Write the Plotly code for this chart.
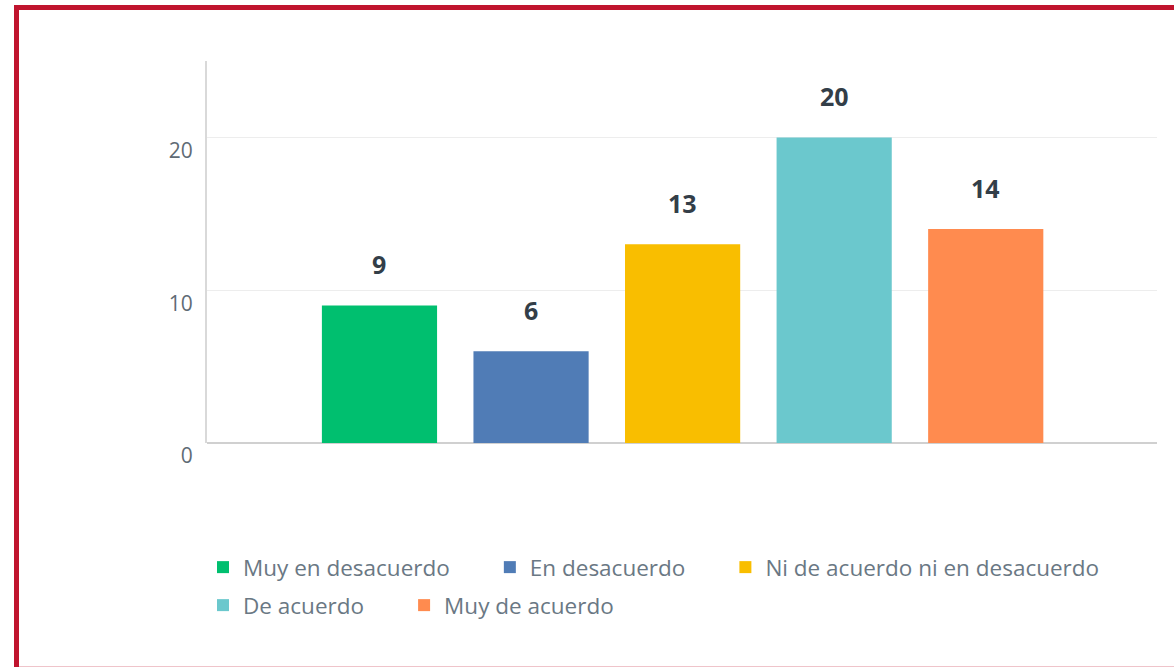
import plotly.graph_objects as go

categories = ["Muy en desacuerdo", "En desacuerdo", "Ni de acuerdo ni en desacuerdo",
              "De acuerdo", "Muy de acuerdo"]
values = [9, 6, 13, 20, 14]
colors = ["#00bf6f", "#507cb6", "#f9be00", "#6bc8cd", "#ff8b4f"]
legend_rows = ["legend", "legend", "legend", "legend2", "legend2"]
y_ticks = [0, 10, 20]

W, H = 1174, 667
L, R, T, B = 207, 17, 61, 224
pw, ph = W - L - R, H - T - B

def px_to_paper_x(px):
    return (px - L) / pw

def px_to_paper_y(py):
    return (H - B - py) / ph

PAD = "\u00a0" * 6

fig = go.Figure()
for cat, val, col, lg in zip(categories, values, colors, legend_rows):
    fig.add_trace(go.Bar(
        x=[cat], y=[val], name=cat + PAD, marker=dict(color=col, line=dict(width=0)),
        width=0.76, hoverinfo="skip", legend=lg,
    ))

for cat, val in zip(categories, values):
    fig.add_annotation(
        x=cat, y=val, text=f"<b>{val}</b>", showarrow=False,
        yanchor="middle", yshift=41,
        font=dict(family="Open Sans", size=25, color="#333e48"),
    )

# red frame
fig.add_shape(
    type="rect", xref="paper", yref="paper",
    x0=px_to_paper_x(16.5), x1=px_to_paper_x(1185),
    y0=px_to_paper_y(669.3), y1=px_to_paper_y(7.5),
    line=dict(color="#c0142e", width=5), layer="above",
)

legend_style = dict(
    orientation="h", xanchor="left", yanchor="top",
    font=dict(family="Open Sans", size=22.5, color="#6a7884"),
    traceorder="normal", itemclick=False, itemdoubleclick=False,
    bgcolor="rgba(0,0,0,0)",
)

fig.update_layout(
    width=W, height=H,
    margin=dict(l=L, r=R, t=T, b=B),
    paper_bgcolor="white", plot_bgcolor="white",
    barmode="overlay",
    showlegend=True,
    legend=dict(x=px_to_paper_x(203), y=px_to_paper_y(546), **legend_style),
    legend2=dict(x=px_to_paper_x(203), y=px_to_paper_y(584), **legend_style),
    xaxis=dict(
        type="category", categoryorder="array", categoryarray=categories,
        range=[-1.138, 5.13], showticklabels=False, ticks="",
        showgrid=False, zeroline=False,
        showline=False,
    ),
    yaxis=dict(
        range=[0, 25], tickvals=y_ticks, ticktext=[str(v) for v in y_ticks],
        showgrid=True, gridcolor="#ededed", gridwidth=1,
        zeroline=True, zerolinecolor="#d0d0d0", zerolinewidth=2,
        showline=True, linecolor="#d9d9d9", linewidth=2,
        ticks="", ticklabelstandoff=8, ticklabelshift=13,
        tickfont=dict(family="Open Sans", size=21, color="#5f6b75"),
    ),
    font=dict(family="Open Sans"),
)

fig.write_html("out.html", config={"displayModeBar": False},
               post_script="document.body.style.margin='0';")
